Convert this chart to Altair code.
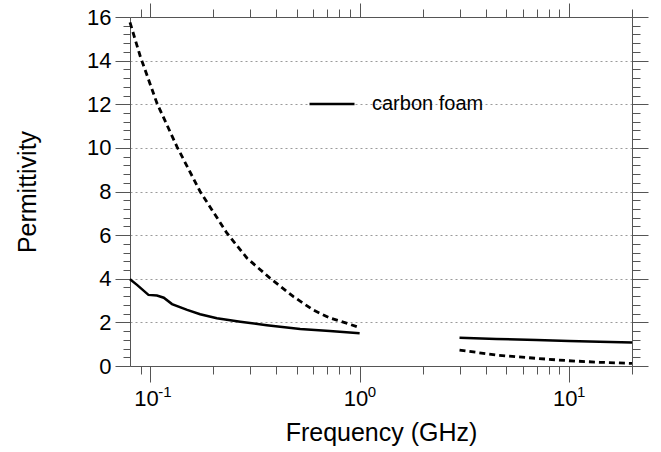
import altair as alt
import pandas as pd

# Carbon foam permittivity vs. frequency (two measurement bands)
low_freq = [0.08, 0.0864, 0.098, 0.1076, 0.116, 0.127, 0.150, 0.173, 0.208, 0.269, 0.36, 0.52, 0.72, 1.0]
low_solid = [3.98, 3.72, 3.26, 3.23, 3.13, 2.84, 2.57, 2.37, 2.19, 2.03, 1.87, 1.70, 1.61, 1.50]

low_freq_d = [0.08, 0.0896, 0.1076, 0.134, 0.173, 0.232, 0.290, 0.374, 0.483, 0.60, 0.72, 0.85, 1.0]
low_dashed = [15.75, 14.19, 12.05, 10.06, 8.0, 6.1, 4.94, 4.02, 3.18, 2.57, 2.2, 1.99, 1.76]

high_freq = [3.0, 4.5, 7.0, 10.0, 14.0, 20.0]
high_solid = [1.30, 1.24, 1.19, 1.15, 1.11, 1.08]
high_dashed = [0.73, 0.50, 0.35, 0.24, 0.17, 0.12]

series_name = "carbon foam"

major_x = [0.1, 1, 10]
exponents = ["-1", "0", "1"]
minor_x = [0.09, 0.2, 0.3, 0.4, 0.5, 0.6, 0.7, 0.8, 0.9,
           2, 3, 4, 5, 6, 7, 8, 9, 20]
major_y = list(range(0, 17, 2))
minor_y = [round(0.4 * k, 1) for k in range(1, 40) if k % 5 != 0]

FONT = "Liberation Sans"
AXIS_GREY = "#555555"

df_low_solid = pd.DataFrame({"f": low_freq, "eps": low_solid, "series": series_name})
df_high_solid = pd.DataFrame({"f": high_freq, "eps": high_solid, "series": series_name})
df_low_dashed = pd.DataFrame({"f": low_freq_d, "eps": low_dashed})
df_high_dashed = pd.DataFrame({"f": high_freq, "eps": high_dashed})
df_exp = pd.DataFrame({"f": major_x, "exp": exponents})

xscale = alt.Scale(type="log", domain=[0.08, 20], nice=False)
yscale = alt.Scale(domain=[0, 16], nice=False, zero=False)


def tick_axis(orient, values, size, **kw):
    return alt.Axis(orient=orient, values=values, tickSize=size, labels=False,
                    title=None, grid=False, domainColor=AXIS_GREY,
                    tickColor=AXIS_GREY, **kw)


stroke_enc = alt.Stroke(
    "series:N",
    scale=alt.Scale(domain=[series_name], range=["black"]),
    legend=alt.Legend(
        orient="none", legendX=178, legendY=63, title=None,
        symbolType="stroke", symbolSize=2025, symbolStrokeWidth=2.5,
        labelFont=FONT, labelFontSize=20, labelOffset=16, padding=0,
        labelColor="black",
    ),
)

# Low band, solid: bottom labelled axis (decade base "10") + left labelled axis with grid
solid_low = alt.Chart(df_low_solid).mark_line(strokeWidth=2.5).encode(
    x=alt.X("f:Q", scale=xscale, axis=alt.Axis(
        orient="bottom", values=major_x, tickSize=16, labelExpr="'10'",
        labelFont=FONT, labelFontSize=22, labelColor="black", labelPadding=6,
        labelAlign="right", labelOffset=8,
        labelFlush=False, title="Frequency (GHz)", titleFont=FONT,
        titleFontSize=25, titleFontWeight="normal", titleColor="black",
        titlePadding=11, grid=False, domainColor=AXIS_GREY, tickColor=AXIS_GREY)),
    y=alt.Y("eps:Q", scale=yscale, axis=alt.Axis(
        orient="left", values=major_y, tickSize=15, labelFont=FONT,
        labelFontSize=22, labelColor="black", labelPadding=4,
        title="Permittivity", titleFont=FONT, titleFontSize=25,
        titleFontWeight="normal", titleColor="black", titlePadding=46,
        grid=True, gridColor="#9a9a9a", gridDash=[2, 3], gridWidth=1,
        domainColor=AXIS_GREY, tickColor=AXIS_GREY)),
    stroke=stroke_enc,
)

# High band, solid: top and right major ticks
solid_high = alt.Chart(df_high_solid).mark_line(strokeWidth=2.5).encode(
    x=alt.X("f:Q", scale=xscale, axis=tick_axis("top", major_x, 14)),
    y=alt.Y("eps:Q", scale=yscale, axis=tick_axis("right", major_y, 16)),
    stroke=stroke_enc,
)

# Low band, dashed: bottom and left minor ticks
dashed_low = alt.Chart(df_low_dashed).mark_line(
    strokeWidth=2.8, strokeDash=[6, 4], color="black").encode(
    x=alt.X("f:Q", scale=xscale, axis=tick_axis("bottom", minor_x, 8, domain=False)),
    y=alt.Y("eps:Q", scale=yscale, axis=tick_axis("left", minor_y, 7, domain=False)),
)

# High band, dashed: top and right minor ticks
dashed_high = alt.Chart(df_high_dashed).mark_line(
    strokeWidth=2.8, strokeDash=[6, 4], color="black").encode(
    x=alt.X("f:Q", scale=xscale, axis=tick_axis("top", minor_x, 8, domain=False)),
    y=alt.Y("eps:Q", scale=yscale, axis=tick_axis("right", minor_y, 8, domain=False)),
)

# Superscript exponents next to the decade labels
exp_text = alt.Chart(df_exp).mark_text(
    font=FONT, fontSize=15, align="left", baseline="middle",
    dx=8, dy=26, color="black").encode(
    x=alt.X("f:Q", scale=xscale, axis=None),
    y=alt.YDatum(0, scale=yscale, axis=None),
    text="exp:N",
)

chart = alt.layer(solid_low, solid_high, dashed_low, dashed_high, exp_text).resolve_axis(
    x="independent", y="independent"
).properties(
    width=502, height=349,
    autosize=alt.AutoSizeParams(type="none"),
    padding={"left": 130, "top": 17, "right": 29, "bottom": 86},
    background="white",
).configure_view(stroke=None)

chart.save("out.html", embed_options={"renderer": "svg", "actions": False})
